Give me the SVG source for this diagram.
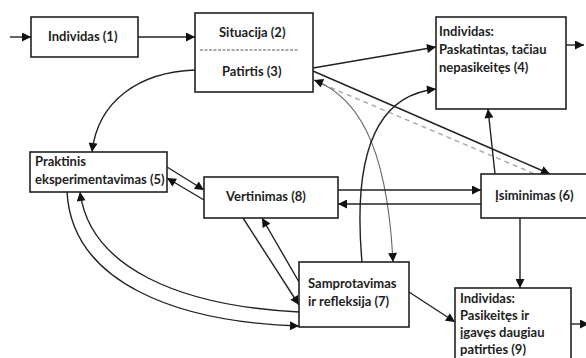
<svg xmlns="http://www.w3.org/2000/svg" width="586" height="358" viewBox="0 0 586 358">
  <style>
    .box { fill: #ffffff; stroke: #222; stroke-width: 1.6; }
    .lbl { font-family: Lato, "Open Sans", "Liberation Sans", sans-serif; font-weight: 700; font-size: 13px; fill: #1e1e1e; }
    .con { fill: none; stroke: #222; stroke-width: 1.4; }
    .thin { fill: none; stroke: #666; stroke-width: 1.1; }
    .dash { fill: none; stroke: #aaa; stroke-width: 1.4; stroke-dasharray: 5 4; }
  </style>
  <defs>
    <marker id="ah" viewBox="0 0 10 10" refX="10" refY="5" markerWidth="10" markerHeight="9" markerUnits="userSpaceOnUse" orient="auto">
      <path d="M0,0 L10,5 L0,10 z" fill="#111"/>
    </marker>
    <marker id="ahs" viewBox="0 0 10 10" refX="10" refY="5" markerWidth="10" markerHeight="9" markerUnits="userSpaceOnUse" orient="auto-start-reverse">
      <path d="M0,0 L10,5 L0,10 z" fill="#111"/>
    </marker>
  </defs>

  <rect width="586" height="358" fill="#ffffff"/>

  <!-- connectors -->
  <g id="connectors">
    <path class="con" d="M10,37 L31,37" marker-end="url(#ah)"/>
    <path class="con" d="M138,37 L195,37" marker-end="url(#ah)"/>
    <path class="con" d="M195,70 C140,72 98,100 92,152" marker-end="url(#ah)"/>
    <path class="con" d="M313,68 L436,47" marker-end="url(#ah)"/>
    <path class="con" d="M313,71 L550,174" marker-end="url(#ah)"/>
    <path class="dash" d="M322,84 L535,174"/>
    <path class="thin" d="M314,80 C355,96 387,140 393,262" marker-start="url(#ahs)" marker-end="url(#ah)"/>
    <path class="con" d="M362,262 C352,150 378,95 436,89" marker-end="url(#ah)"/>
    <path class="con" d="M495,174 L488,109" marker-end="url(#ah)"/>
    <path class="con" d="M338,190 L481,190" marker-end="url(#ah)"/>
    <path class="con" d="M481,204 L338,204" marker-end="url(#ah)"/>
    <path class="con" d="M520,218 L520,288" marker-end="url(#ah)"/>
    <path class="con" d="M409,292 L455,322" marker-end="url(#ah)"/>
    <path class="con" d="M167,167 L204,190" marker-end="url(#ah)"/>
    <path class="con" d="M204,200 L167,178" marker-end="url(#ah)"/>
    <path class="con" d="M243,218 L299,305" marker-end="url(#ah)"/>
    <path class="con" d="M299,282 L262,218" marker-end="url(#ah)"/>
    <path class="con" d="M67,192 C72,282 175,322 299,326" marker-end="url(#ah)"/>
    <path class="con" d="M299,312 C180,306 90,268 80,192" marker-end="url(#ah)"/>
    <path class="con" d="M566,45 L584,45" marker-end="url(#ah)"/>
    <path class="con" d="M571,324 L589,324" marker-end="url(#ah)"/>
  </g>

  <!-- nodes -->
  <g id="n1">
    <rect class="box" x="31" y="17" width="107" height="40"/>
    <text class="lbl" x="48" y="41">Individas (1)</text>
  </g>
  <g id="n2-3">
    <rect class="box" x="195" y="13" width="118" height="79"/>
    <text class="lbl" x="219" y="37">Situacija (2)</text>
    <line x1="200" y1="50" x2="298" y2="50" stroke="#555" stroke-width="1" stroke-dasharray="3 1.5"/>
    <text class="lbl" x="222" y="76">Patirtis (3)</text>
  </g>
  <g id="n4">
    <rect class="box" x="436" y="17" width="130" height="92"/>
    <text class="lbl" x="439" y="36">Individas:</text>
    <text class="lbl" x="439" y="54">Paskatintas, tačiau</text>
    <text class="lbl" x="439" y="72">nepasikeitęs (4)</text>
  </g>
  <g id="n5">
    <rect class="box" x="30" y="152" width="137" height="40"/>
    <text class="lbl" x="35" y="166">Praktinis</text>
    <text class="lbl" x="35" y="184">eksperimentavimas (5)</text>
  </g>
  <g id="n8">
    <rect class="box" x="204" y="177" width="134" height="41"/>
    <text class="lbl" x="226" y="201">Vertinimas (8)</text>
  </g>
  <g id="n6">
    <rect class="box" x="481" y="174" width="110" height="44"/>
    <text class="lbl" x="495" y="200">Įsiminimas (6)</text>
  </g>
  <g id="n7">
    <rect class="box" x="299" y="262" width="110" height="65"/>
    <text class="lbl" x="308" y="288">Samprotavimas</text>
    <text class="lbl" x="308" y="306">ir refleksija (7)</text>
  </g>
  <g id="n9">
    <rect class="box" x="455" y="288" width="116" height="80"/>
    <text class="lbl" x="460" y="303">Individas:</text>
    <text class="lbl" x="460" y="320">Pasikeitęs ir</text>
    <text class="lbl" x="460" y="337">įgavęs daugiau</text>
    <text class="lbl" x="460" y="354">patirties (9)</text>
  </g>
</svg>
